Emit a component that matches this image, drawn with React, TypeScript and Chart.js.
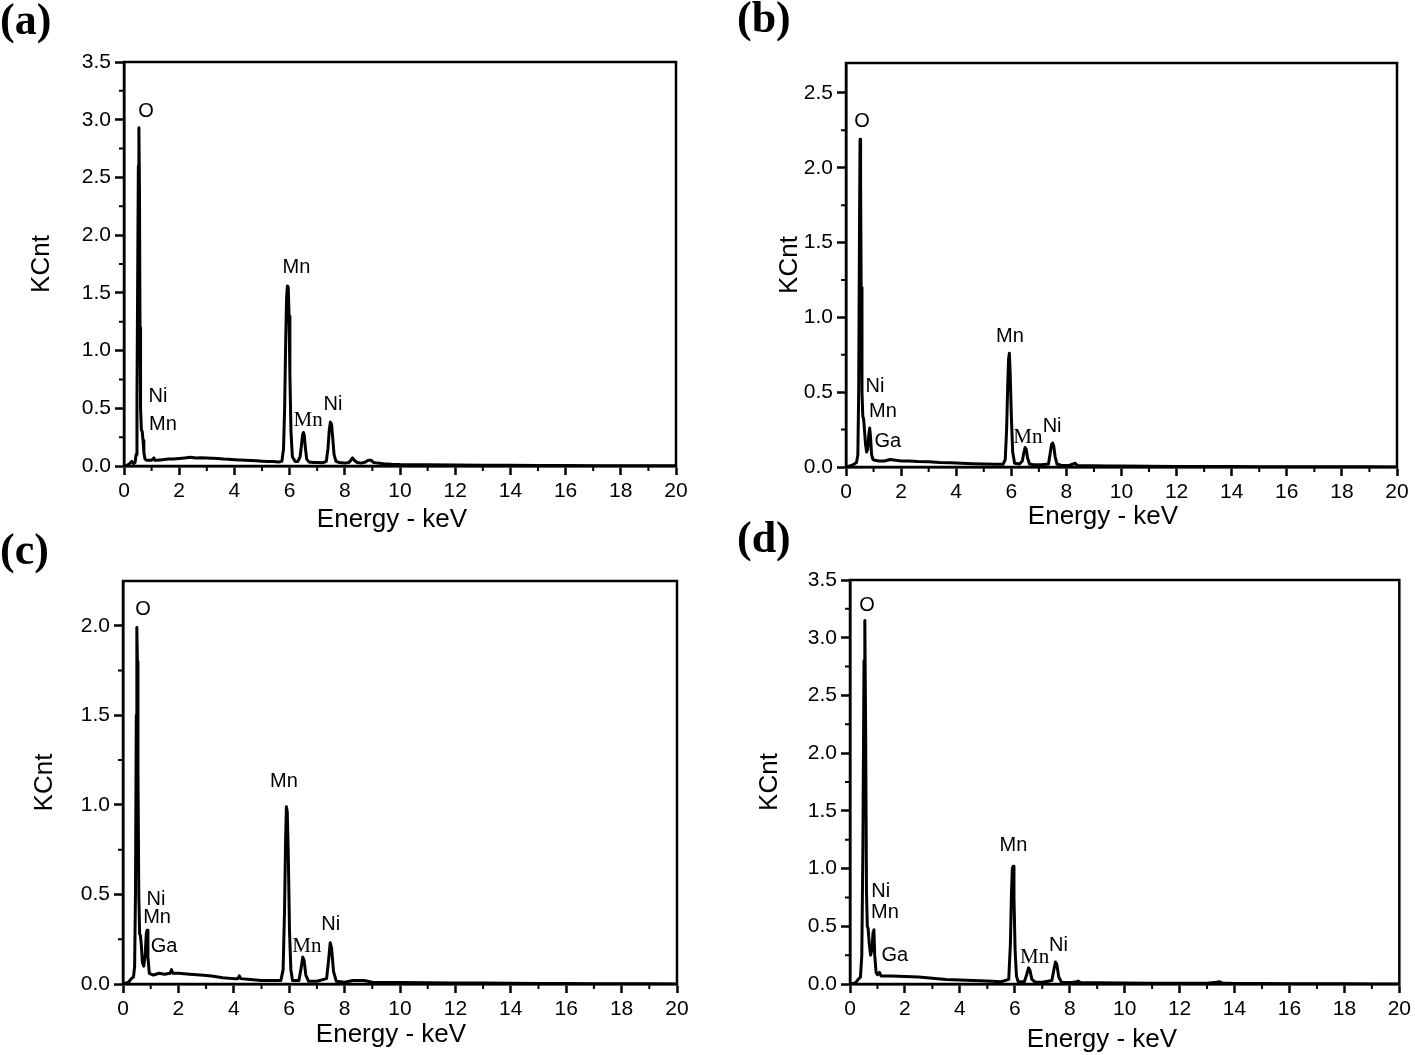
import React, { useEffect, useRef } from "react";
import { Chart, registerables } from "chart.js";

Chart.register(...registerables);

// ---------- data ----------
const energyA = [
  0, 0.1, 0.2, 0.28, 0.35, 0.4, 0.44, 0.47, 0.5, 0.52,
  0.54, 0.56, 0.58, 0.6, 0.63, 0.66, 0.69, 0.72, 0.76, 0.82,
  0.9, 1.0, 1.08, 1.12, 1.2, 1.4, 1.6, 1.8, 2.0, 2.2,
  2.4, 2.6, 2.8, 3.0, 3.2, 3.4, 3.6, 3.8, 4.0, 4.2,
  4.4, 4.6, 4.8, 5.0, 5.2, 5.4, 5.6, 5.72, 5.78, 5.82,
  5.86, 5.89, 5.92, 5.95, 5.98, 6.01, 6.05, 6.1, 6.2, 6.3,
  6.38, 6.43, 6.47, 6.5, 6.53, 6.57, 6.62, 6.7, 6.85, 7.0,
  7.2, 7.33, 7.39, 7.44, 7.48, 7.52, 7.56, 7.61, 7.68, 7.8,
  8.0, 8.15, 8.22, 8.28, 8.34, 8.45, 8.6, 8.75, 8.85, 8.95,
  9.05, 9.2, 9.4, 9.7, 10, 11, 12, 13, 14, 15,
  16, 17, 18, 19, 20,
];
const countsA = [
  0, 0.005, 0.02, 0.04, 0.02, 0.03, 0.1, 0.6, 1.8, 2.6,
  2.93, 2.4, 1.2, 0.5, 0.31, 0.3, 0.22, 0.12, 0.06, 0.05,
  0.05, 0.05, 0.07, 0.05, 0.05, 0.055, 0.06, 0.06, 0.065, 0.07,
  0.075, 0.07, 0.072, 0.07, 0.068, 0.065, 0.06, 0.058, 0.055, 0.052,
  0.05, 0.048, 0.045, 0.042, 0.04, 0.038, 0.035, 0.04, 0.15, 0.5,
  1.1, 1.45, 1.56, 1.55, 1.3, 0.8, 0.3, 0.08, 0.04, 0.04,
  0.08, 0.18, 0.27, 0.29, 0.27, 0.16, 0.06, 0.035, 0.03, 0.03,
  0.028, 0.04, 0.15, 0.32, 0.38, 0.36, 0.25, 0.1, 0.04, 0.03,
  0.025, 0.03, 0.05, 0.07, 0.05, 0.03, 0.025, 0.035, 0.05, 0.05,
  0.03, 0.025, 0.02, 0.015, 0.012, 0.01, 0.008, 0.007, 0.006, 0.005,
  0.004, 0.003, 0.003, 0.002, 0.002,
];

const energyB = [
  0, 0.1, 0.2, 0.3, 0.38, 0.43, 0.46, 0.49, 0.51, 0.53,
  0.55, 0.58, 0.61, 0.64, 0.67, 0.71, 0.75, 0.79, 0.83, 0.86,
  0.89, 0.93, 0.98, 1.05, 1.2, 1.4, 1.6, 1.8, 2.0, 2.3,
  2.6, 3.0, 3.4, 3.8, 4.2, 4.6, 5.0, 5.4, 5.7, 5.78,
  5.83, 5.87, 5.9, 5.93, 5.96, 6.0, 6.05, 6.12, 6.3, 6.4,
  6.45, 6.5, 6.54, 6.59, 6.66, 6.8, 7.1, 7.35, 7.41, 7.46,
  7.5, 7.54, 7.59, 7.66, 7.8, 8.1, 8.25, 8.32, 8.4, 8.7,
  9.0, 9.5, 10, 11, 12, 13, 14, 15, 16, 17,
  18, 19, 20,
];
const countsB = [
  0, 0.005, 0.01, 0.02, 0.03, 0.08, 0.5, 1.6, 2.19, 1.9,
  1.2, 0.5, 0.34, 0.32, 0.25, 0.15, 0.1, 0.12, 0.22, 0.26,
  0.2, 0.08, 0.05, 0.045, 0.04, 0.04, 0.05, 0.045, 0.04, 0.04,
  0.037, 0.035, 0.03, 0.028, 0.025, 0.022, 0.02, 0.018, 0.018, 0.05,
  0.25, 0.55, 0.72, 0.76, 0.62, 0.35, 0.1, 0.025, 0.02, 0.04,
  0.09, 0.13, 0.12, 0.06, 0.02, 0.015, 0.015, 0.02, 0.09, 0.15,
  0.16, 0.14, 0.07, 0.02, 0.012, 0.01, 0.02, 0.025, 0.01, 0.008,
  0.008, 0.006, 0.006, 0.005, 0.004, 0.003, 0.003, 0.002, 0.002, 0.001,
  0.001, 0.001, 0,
];

const energyC = [
  0, 0.1, 0.2, 0.3, 0.38, 0.42, 0.45, 0.48, 0.5, 0.52,
  0.54, 0.57, 0.6, 0.63, 0.66, 0.7, 0.75, 0.8, 0.84, 0.87,
  0.9, 0.95, 1.1, 1.3, 1.5, 1.7, 1.75, 1.8, 2.0, 2.4,
  2.8, 3.2, 3.6, 4.0, 4.15, 4.2, 4.25, 4.6, 5.0, 5.4,
  5.7, 5.78, 5.83, 5.87, 5.9, 5.93, 5.97, 6.01, 6.06, 6.12,
  6.35, 6.42, 6.49, 6.54, 6.6, 6.7, 7.0, 7.35, 7.42, 7.48,
  7.53, 7.6, 7.7, 8.0, 8.3, 8.7, 9.0, 10, 11, 12,
  13, 14, 15, 16, 17, 18, 19, 20,
];
const countsC = [
  0, 0.005, 0.01, 0.03, 0.04, 0.1, 0.5, 1.5, 1.99, 1.8,
  1.2, 0.5, 0.28, 0.27, 0.22, 0.12, 0.1, 0.16, 0.28, 0.3,
  0.15, 0.06, 0.05, 0.06, 0.055, 0.06, 0.08, 0.06, 0.06, 0.055,
  0.05, 0.045, 0.035, 0.03, 0.03, 0.045, 0.03, 0.025, 0.02, 0.02,
  0.02, 0.08, 0.4, 0.8, 0.99, 0.96, 0.7, 0.3, 0.08, 0.02,
  0.02, 0.08, 0.15, 0.13, 0.05, 0.015, 0.015, 0.03, 0.13, 0.23,
  0.2, 0.07, 0.015, 0.01, 0.02, 0.02, 0.01, 0.008, 0.007, 0.006,
  0.005, 0.004, 0.003, 0.003, 0.002, 0.002, 0.001, 0,
];

const energyD = [
  0, 0.1, 0.2, 0.3, 0.38, 0.43, 0.47, 0.51, 0.54, 0.57,
  0.6, 0.63, 0.66, 0.7, 0.75, 0.8, 0.84, 0.87, 0.9, 0.95,
  1.0, 1.07, 1.13, 1.2, 1.5, 2.0, 2.5, 3.0, 3.5, 4.0,
  4.5, 5.0, 5.5, 5.78, 5.84, 5.88, 5.91, 5.94, 5.97, 6.01,
  6.06, 6.12, 6.35, 6.43, 6.5, 6.55, 6.62, 6.75, 7.0, 7.35,
  7.42, 7.48, 7.53, 7.6, 7.7, 8.0, 8.25, 8.32, 8.4, 9.0,
  10, 11, 12, 13, 13.35, 13.45, 13.55, 14, 15, 16,
  17, 18, 19, 20,
];
const countsD = [
  0, 0.005, 0.01, 0.04, 0.06, 0.25, 1.2, 2.8, 3.15, 2.2,
  0.8, 0.5, 0.48, 0.35, 0.25, 0.3, 0.45, 0.47, 0.25, 0.1,
  0.08, 0.1, 0.07, 0.07, 0.07, 0.065, 0.06, 0.05, 0.04, 0.035,
  0.03, 0.025, 0.02, 0.04, 0.35, 0.8, 1.0, 1.02, 0.75, 0.3,
  0.07, 0.02, 0.02, 0.08, 0.14, 0.12, 0.04, 0.015, 0.015, 0.03,
  0.12, 0.19, 0.17, 0.06, 0.015, 0.012, 0.02, 0.025, 0.012, 0.01,
  0.008, 0.007, 0.006, 0.006, 0.015, 0.02, 0.008, 0.005, 0.004, 0.003,
  0.002, 0.002, 0.001, 0,
];

// peak labels: text, energy (keV), height (KCnt), serif flag
type PeakLabel = { t: string; x: number; y: number; serif?: boolean };
const labelsA: PeakLabel[] = [
  { t: "O", x: 0.8, y: 3.07 },
  { t: "Ni", x: 1.23, y: 0.6 },
  { t: "Mn", x: 1.41, y: 0.36 },
  { t: "Mn", x: 6.25, y: 1.72 },
  { t: "Mn", x: 6.67, y: 0.39, serif: true },
  { t: "Ni", x: 7.57, y: 0.53 },
];
const labelsB: PeakLabel[] = [
  { t: "O", x: 0.58, y: 2.31 },
  { t: "Ni", x: 1.05, y: 0.54 },
  { t: "Mn", x: 1.34, y: 0.37 },
  { t: "Ga", x: 1.52, y: 0.17 },
  { t: "Mn", x: 5.95, y: 0.87 },
  { t: "Mn", x: 6.6, y: 0.2, serif: true },
  { t: "Ni", x: 7.48, y: 0.27 },
];
const labelsC: PeakLabel[] = [
  { t: "O", x: 0.72, y: 2.09 },
  { t: "Ni", x: 1.19, y: 0.47 },
  { t: "Mn", x: 1.23, y: 0.37 },
  { t: "Ga", x: 1.48, y: 0.21 },
  { t: "Mn", x: 5.81, y: 1.13 },
  { t: "Mn", x: 6.64, y: 0.21, serif: true },
  { t: "Ni", x: 7.5, y: 0.33 },
];
const labelsD: PeakLabel[] = [
  { t: "O", x: 0.62, y: 3.28 },
  { t: "Ni", x: 1.12, y: 0.8 },
  { t: "Mn", x: 1.27, y: 0.62 },
  { t: "Ga", x: 1.63, y: 0.25 },
  { t: "Mn", x: 5.95, y: 1.2 },
  { t: "Mn", x: 6.72, y: 0.23, serif: true },
  { t: "Ni", x: 7.59, y: 0.33 },
];

const xMinorTicks = [1, 3, 5, 7, 9, 11, 13, 15, 17, 19];
const xTitle = "Energy - keV";
const yTitle = "KCnt";

// ---------- layout ----------
const W = 1415;
const H = 1055;
const SANS = "'Liberation Sans', Arial, Helvetica, sans-serif";
const SERIF = "'Liberation Serif', 'Times New Roman', serif";
const Y_AXIS_W = 70;
const X_AXIS_H = 40;

type Panel = {
  letter: string;
  letterX: number;
  letterY: number;
  energy: number[];
  counts: number[];
  labels: PeakLabel[];
  yMax: number;
  left: number;
  right: number;
  top: number;
  bottom: number;
  yTitleX: number;
  xTitleX: number;
  xTitleY: number;
};

const panels: Panel[] = [
  { letter: "(a)", letterX: 0, letterY: 34, energy: energyA, counts: countsA, labels: labelsA, yMax: 3.5,
    left: 124, right: 676, top: 62, bottom: 466, yTitleX: 42, xTitleX: 392, xTitleY: 520 },
  { letter: "(b)", letterX: 737, letterY: 32, energy: energyB, counts: countsB, labels: labelsB, yMax: 2.7,
    left: 846, right: 1397, top: 63, bottom: 467, yTitleX: 790, xTitleX: 1103, xTitleY: 517 },
  { letter: "(c)", letterX: 0, letterY: 564, energy: energyC, counts: countsC, labels: labelsC, yMax: 2.25,
    left: 123, right: 677, top: 581, bottom: 984, yTitleX: 45, xTitleX: 391, xTitleY: 1035 },
  { letter: "(d)", letterX: 737, letterY: 552, energy: energyD, counts: countsD, labels: labelsD, yMax: 3.5,
    left: 850, right: 1401, top: 580, bottom: 984, yTitleX: 770, xTitleX: 1102, xTitleY: 1040 },
];

function makeDecor(p: Panel) {
  return {
    id: "decor",
    afterDraw(chart: any) {
      const { ctx } = chart;
      const { left, right, top, bottom } = chart.chartArea;
      const xs = chart.scales.x;
      const ys = chart.scales.y;
      ctx.save();
      ctx.strokeStyle = "#000";
      ctx.lineWidth = 2.5;
      ctx.strokeRect(left, top, right - left, bottom - top);

      // minor ticks
      ctx.lineWidth = 2;
      ctx.beginPath();
      for (const v of xMinorTicks) {
        const px = xs.getPixelForValue(v);
        ctx.moveTo(px, bottom);
        ctx.lineTo(px, bottom + 5);
      }
      for (let v = 0.25; v < p.yMax; v += 0.5) {
        const py = ys.getPixelForValue(v);
        ctx.moveTo(left, py);
        ctx.lineTo(left - 5, py);
      }
      ctx.stroke();

      ctx.fillStyle = "#000";
      // peak labels
      ctx.textAlign = "center";
      ctx.textBaseline = "middle";
      for (const l of p.labels) {
        ctx.font = l.serif ? `21px ${SERIF}` : `20px ${SANS}`;
        ctx.fillText(l.t, xs.getPixelForValue(l.x), ys.getPixelForValue(l.y));
      }

      // axis titles
      ctx.font = `26px ${SANS}`;
      ctx.fillText(xTitle, p.xTitleX, p.xTitleY);
      ctx.save();
      ctx.translate(p.yTitleX, (top + bottom) / 2);
      ctx.rotate(-Math.PI / 2);
      ctx.fillText(yTitle, 0, 0);
      ctx.restore();

      // panel letter
      ctx.font = `bold 44px ${SERIF}`;
      ctx.textAlign = "left";
      ctx.textBaseline = "alphabetic";
      ctx.fillText(p.letter, p.letterX, p.letterY);
      ctx.restore();
    },
  };
}

function PanelChart({ p }: { p: Panel }) {
  const ref = useRef<HTMLCanvasElement | null>(null);
  useEffect(() => {
    if (!ref.current) return;
    const chart = new Chart(ref.current, {
      type: "line",
      data: {
        datasets: [
          {
            data: p.energy.map((e, i) => ({ x: e, y: p.counts[i] })),
            borderColor: "#000",
            borderWidth: 3,
            borderJoinStyle: "round",
            pointRadius: 0,
            fill: false,
            tension: 0,
          },
        ],
      },
      options: {
        animation: false,
        responsive: false,
        devicePixelRatio: 1,
        layout: {
          padding: {
            left: p.left - Y_AXIS_W,
            right: W - p.right,
            top: p.top,
            bottom: H - p.bottom - X_AXIS_H,
          },
        },
        plugins: { legend: { display: false }, tooltip: { enabled: false } },
        scales: {
          x: {
            type: "linear",
            min: 0,
            max: 20,
            afterFit: (s: any) => {
              s.height = X_AXIS_H;
            },
            ticks: {
              stepSize: 2,
              padding: 4,
              maxRotation: 0,
              autoSkip: false,
              includeBounds: false,
              color: "#000",
              font: { family: SANS, size: 21 },
              callback: (v: any) => String(v),
            },
            grid: {
              drawOnChartArea: false,
              drawTicks: true,
              tickLength: 9,
              tickWidth: 2.5,
              tickColor: "#000",
            },
            border: { display: true, width: 2.5, color: "#000" },
          },
          y: {
            type: "linear",
            min: 0,
            max: p.yMax,
            afterFit: (s: any) => {
              s.width = Y_AXIS_W;
            },
            ticks: {
              stepSize: 0.5,
              padding: 4,
              autoSkip: false,
              includeBounds: false,
              color: "#000",
              font: { family: SANS, size: 21 },
              callback: (v: any) => Number(v).toFixed(1),
            },
            grid: {
              drawOnChartArea: false,
              drawTicks: true,
              tickLength: 9,
              tickWidth: 2.5,
              tickColor: "#000",
            },
            border: { display: true, width: 2.5, color: "#000" },
          },
        },
      },
      plugins: [makeDecor(p)],
    } as any);
    return () => chart.destroy();
  }, [p]);
  return (
    <canvas
      ref={ref}
      width={W}
      height={H}
      style={{ position: "absolute", left: 0, top: 0, width: W, height: H }}
    />
  );
}

export default function App() {
  return (
    <div style={{ position: "absolute", left: 0, top: 0, width: W, height: H, background: "#fff" }}>
      {panels.map((p) => (
        <PanelChart key={p.letter} p={p} />
      ))}
    </div>
  );
}
